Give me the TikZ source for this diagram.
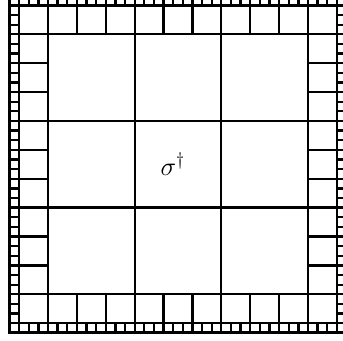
\documentclass[tikz,border=0pt]{standalone}
\begin{document}
\begin{tikzpicture}[x=2cm,y=2cm,
  cell/.style={draw=black, line width=1.5pt},
  rim/.style={draw=black, line width=1.9pt}]
\clip (-0.5538,-0.5388) rectangle (3.4038,3.3958);
% central 3x3 block
\draw[cell,step=2cm] (0,0) grid (3,3);
% middle ring, cells of 1/3
\foreach \i in {0,...,10} {
  \draw[cell] ({-1/3+\i/3},-1/3) rectangle ++(1/3,1/3);
  \draw[cell] ({-1/3+\i/3},3) rectangle ++(1/3,1/3);
}
\foreach \j in {0,...,8} {
  \draw[cell] (-1/3,{\j/3}) rectangle ++(1/3,1/3);
  \draw[cell] (3,{\j/3}) rectangle ++(1/3,1/3);
}
% outer ring, cells of 1/9
\foreach \i in {0,...,34} {
  \draw[cell] ({-4/9+\i/9},-4/9) rectangle ++(1/9,1/9);
  \draw[cell] ({-4/9+\i/9},{3+1/3}) rectangle ++(1/9,1/9);
}
\foreach \j in {0,...,32} {
  \draw[cell] (-4/9,{-1/3+\j/9}) rectangle ++(1/9,1/9);
  \draw[cell] ({3+1/3},{-1/3+\j/9}) rectangle ++(1/9,1/9);
}
\draw[rim] (-4/9,-4/9) rectangle ({3+4/9},{3+4/9});
\node (sigma) at (1.44,1.50) {\LARGE$\sigma^\dagger$};
\end{tikzpicture}
\end{document}
